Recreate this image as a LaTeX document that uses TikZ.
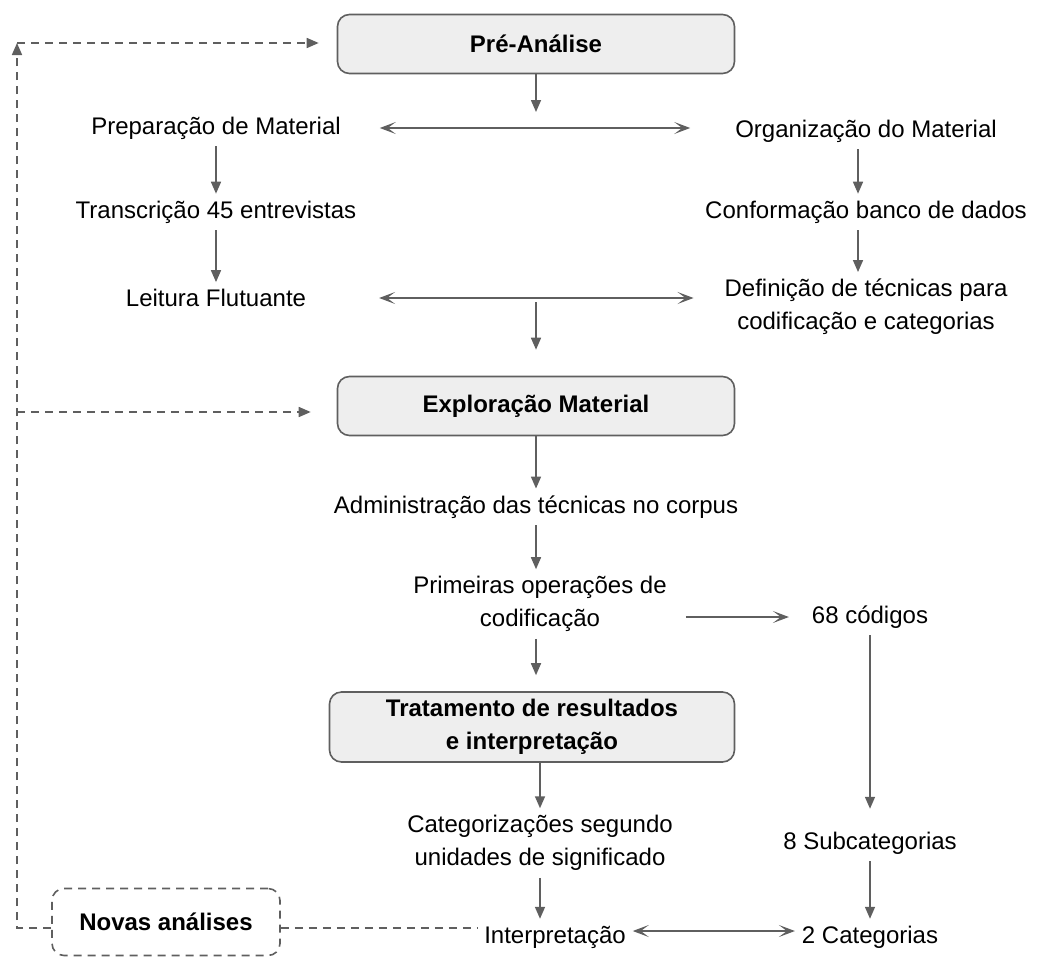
\documentclass[tikz,border=0pt]{standalone}
\usepackage{fontspec}
\setmainfont{Liberation Sans}
\usetikzlibrary{arrows.meta,positioning}
\definecolor{linegray}{HTML}{5F5F5F}
\definecolor{boxfill}{HTML}{EEEEEE}

\begin{document}
\begin{tikzpicture}[
    x=0.5pt, y=-0.5pt,
    every node/.style={
        font=\fontsize{12}{16.5}\selectfont,
        align=center
    },
    phase/.style={
        draw=linegray, fill=boxfill, line width=0.8pt,
        rounded corners=6pt, font=\fontsize{12}{16.5}\selectfont\bfseries,
        minimum width=198.5pt, minimum height=29.5pt
    },
    loopbox/.style={
        draw=linegray, dashed, dash pattern=on 4pt off 3pt, line width=0.8pt,
        rounded corners=6pt, font=\fontsize{12}{16.5}\selectfont\bfseries,
        minimum width=114pt, minimum height=33.5pt
    },
    flow/.style={draw=linegray, line width=0.8pt,
        -{Triangle[width=5pt,length=6pt]}},
    link/.style={draw=linegray, line width=0.8pt,
        -{Stealth[width=6pt,length=8pt,inset=4pt]}},
    both/.style={link, {Stealth[width=6pt,length=8pt,inset=4pt]}-{Stealth[width=6pt,length=8pt,inset=4pt]}},
    back/.style={draw=linegray, line width=0.8pt, dash pattern=on 4pt off 3pt}
]
\useasboundingbox (0,0) rectangle (1037,958);

% fases
\node[phase] (pre)  at (536,44)  {Pré-Análise};
\node[phase] (expl) at (536,406) {Exploração Material};
\node[phase, minimum width=202.5pt, minimum height=35pt] (trat) at (532,727)
    {Tratamento de resultados\\ e interpretação};

% pre-analise
\node (prep)  at (216,128) {Preparação de Material};
\node (trans) at (216,212) {Transcrição 45 entrevistas};
\node (leit)  at (216,298) {Leitura Flutuante};
\node (org)   at (866,131) {Organização do Material};
\node (conf)  at (866,212) {Conformação banco de dados};
\node (def)   at (866,307) {Definição de técnicas para\\ codificação e categorias};

% exploracao
\node (adm)  at (536,507) {Administração das técnicas no corpus};
\node (prim) at (540,604) {Primeiras operações de\\ codificação};
\node (cod)  at (870,617) {68 códigos};

% tratamento
\node (categ)  at (540,843) {Categorizações segundo\\ unidades de significado};
\node (sub)    at (870,843) {8 Subcategorias};
\node (interp) at (555,937) {Interpretação};
\node (cat2)   at (870,937) {2 Categorias};
\node[loopbox] (novas) at (166,922) {Novas análises};

\coordinate (c1) at (17,43);
\coordinate (c2) at (17,412);
\coordinate (m1) at (536,112);
\coordinate (m2) at (536,302);

% setas
\draw[flow] (pre.south -| m1) -- (m1);
\draw[both, shorten <=16pt, shorten >=19pt] (prep.east) -- (prep.east -| org.west);
\draw[flow] (prep) -- (trans);
\draw[flow] (trans) -- (leit);
\draw[flow] (org.south -| 858,0) -- (conf.north -| 858,0);
\draw[flow] (conf.south -| 858,0) -- (def.north -| 858,0);
\draw[both, shorten <=33pt, shorten >=12pt] (leit.east) -- (leit.east -| def.west);
\draw[flow, shorten >=13pt] (m2) -- (m2 |- expl.north);
\draw[flow] (expl.south) -- (adm.north -| expl.south);
\draw[flow] (adm.south) -- (prim.north -| adm.south);
\draw[link, shorten <=6pt, shorten >=8pt] (prim.east |- cod) -- (cod.west);
\draw[flow, shorten >=8pt] (prim.south -| adm.south) -- (trat.north -| adm.south);
\draw[flow] (trat.south -| categ) -- (categ.north);
\draw[flow, shorten >=8pt] (cod.south) -- (sub.north);
\draw[flow] (categ.south) -- (categ.south |- interp.north);
\draw[flow] (sub.south) -- (cat2.north);
\draw[both] ([yshift=3pt]interp.east) -- ([yshift=3pt]cat2.west);

% retornos
\draw[back] ([yshift=-3pt]novas.east) -- ([yshift=-3pt]novas.east -| interp.west);
\draw[back, -{Triangle[width=5pt,length=6pt]}] ([yshift=-3pt]novas.west) -| (c1);
\draw[back, -{Triangle[width=5pt,length=6pt]}, shorten >=9pt] (c1) -- (c1 -| pre.west);
\draw[back, -{Triangle[width=5pt,length=6pt]}, shorten >=13pt] (c2) -- (c2 -| expl.west);
\end{tikzpicture}
\end{document}
